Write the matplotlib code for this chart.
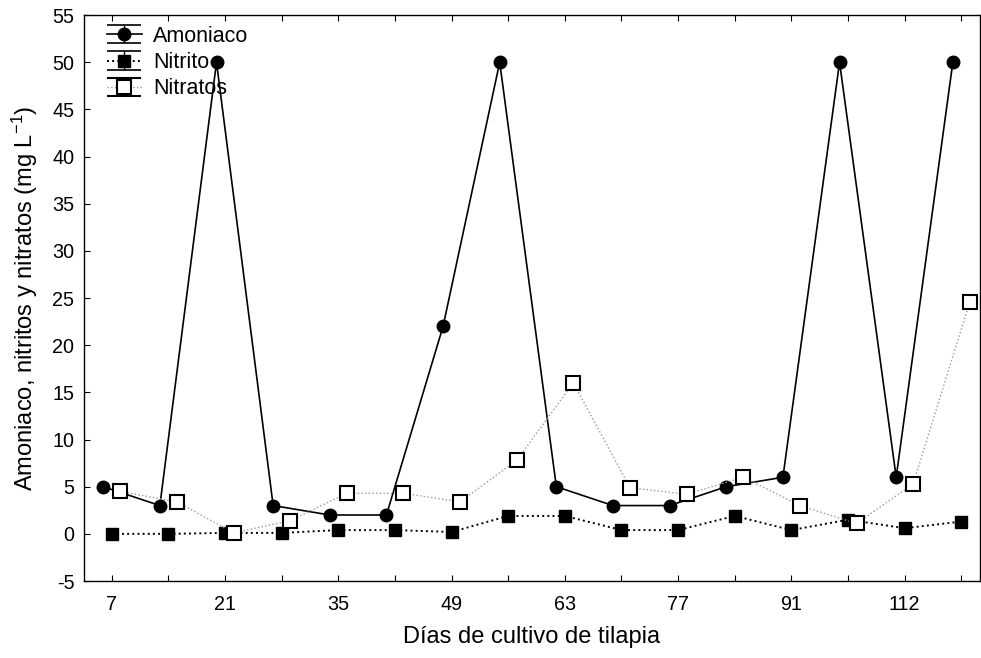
import matplotlib
matplotlib.use('Agg')
import matplotlib.pyplot as plt
import numpy as np
from matplotlib.legend_handler import HandlerErrorbar

plt.rcParams['font.family'] = ['Liberation Sans', 'DejaVu Sans']
plt.rcParams['axes.unicode_minus'] = False
plt.rcParams['mathtext.fontset'] = 'custom'
plt.rcParams['mathtext.rm'] = 'Liberation Sans'
plt.rcParams['mathtext.default'] = 'rm'

# dias de muestreo (solo uno de cada dos lleva etiqueta)
dias = ['7', '14', '21', '28', '35', '42', '49', '56', '63', '70',
        '77', '84', '91', '98', '112', '119']
tick_labels = ['7', '', '21', '', '35', '', '49', '', '63', '',
               '77', '', '91', '', '112', '']

amoniaco = [5, 3, 50, 3, 2, 2, 22, 50, 5, 3, 3, 5, 6, 50, 6, 50]
nitrito = [0.0, 0.0, 0.1, 0.1, 0.4, 0.4, 0.2, 1.9, 1.9, 0.4, 0.4, 1.9,
           0.4, 1.5, 0.6, 1.3]
nitratos = [4.5, 3.4, 0.1, 1.4, 4.3, 4.3, 3.4, 7.8, 16.0, 4.9, 4.2, 6.0,
            3.0, 1.1, 5.3, 24.6]

x = np.arange(len(dias))

fig = plt.figure(figsize=(9.81, 6.58), dpi=100)
ax = fig.add_axes([0.0856, 0.117, 0.9134, 0.860])

# las series estan ligeramente desplazadas en x
ax.plot(x - 0.15, amoniaco, color='black', lw=1.2, marker='o', ms=9,
        mfc='black', mec='black', zorder=3)
ax.plot(x, nitrito, color='black', lw=1.4, ls=':', marker='s', ms=8,
        mfc='black', mec='black', zorder=3)
ax.plot(x + 0.15, nitratos, color='#999999', lw=1.0, ls=':', marker='s',
        ms=9.5, mfc='white', mec='black', mew=1.5, zorder=4)

# proxies tipo errorbar para imitar la leyenda original (punto fuera de vista)
h1 = ax.errorbar([np.nan], [np.nan], yerr=[1], color='black', lw=1.2,
                 marker='o', ms=9, ecolor='black', elinewidth=1.0,
                 capsize=12, capthick=1.2)
h2 = ax.errorbar([np.nan], [np.nan], yerr=[1], color='black', lw=1.4, ls=':',
                 marker='s', ms=8, ecolor='black', elinewidth=1.0,
                 capsize=12, capthick=1.2)
h3 = ax.errorbar([np.nan], [np.nan], yerr=[1], color='#999999', lw=1.0,
                 ls=':', marker='s', ms=9.5, mfc='white', mec='black',
                 mew=1.5, ecolor='black', elinewidth=1.0, capsize=12,
                 capthick=1.2)

ax.legend([h1, h2, h3], ['Amoniaco', 'Nitrito', 'Nitratos'],
          loc='upper left', bbox_to_anchor=(0.009, 1.008), frameon=False,
          fontsize=15.5, handlelength=1.6, handletextpad=0.55,
          labelspacing=0.25, borderaxespad=0.3,
          handler_map={type(h1): HandlerErrorbar(xerr_size=0.5, yerr_size=0.42)})

ax.set_xlim(-0.49, 15.33)
ax.set_ylim(-5, 55)
ax.set_yticks(np.arange(-5, 56, 5))
ax.set_xticks(x)
ax.set_xticklabels(tick_labels)

ax.tick_params(direction='in', top=True, right=False, length=4,
               labelsize=14.2, pad=10)
ax.tick_params(axis='y', pad=7)
for s in ax.spines.values():
    s.set_linewidth(1.0)

ax.set_xlabel('Días de cultivo de tilapia', fontsize=17, labelpad=9)
ax.set_ylabel('Amoniaco, nitritos y nitratos (mg L$^{-1}$)', fontsize=17,
              labelpad=9)

fig.savefig('out.png', dpi=100)
